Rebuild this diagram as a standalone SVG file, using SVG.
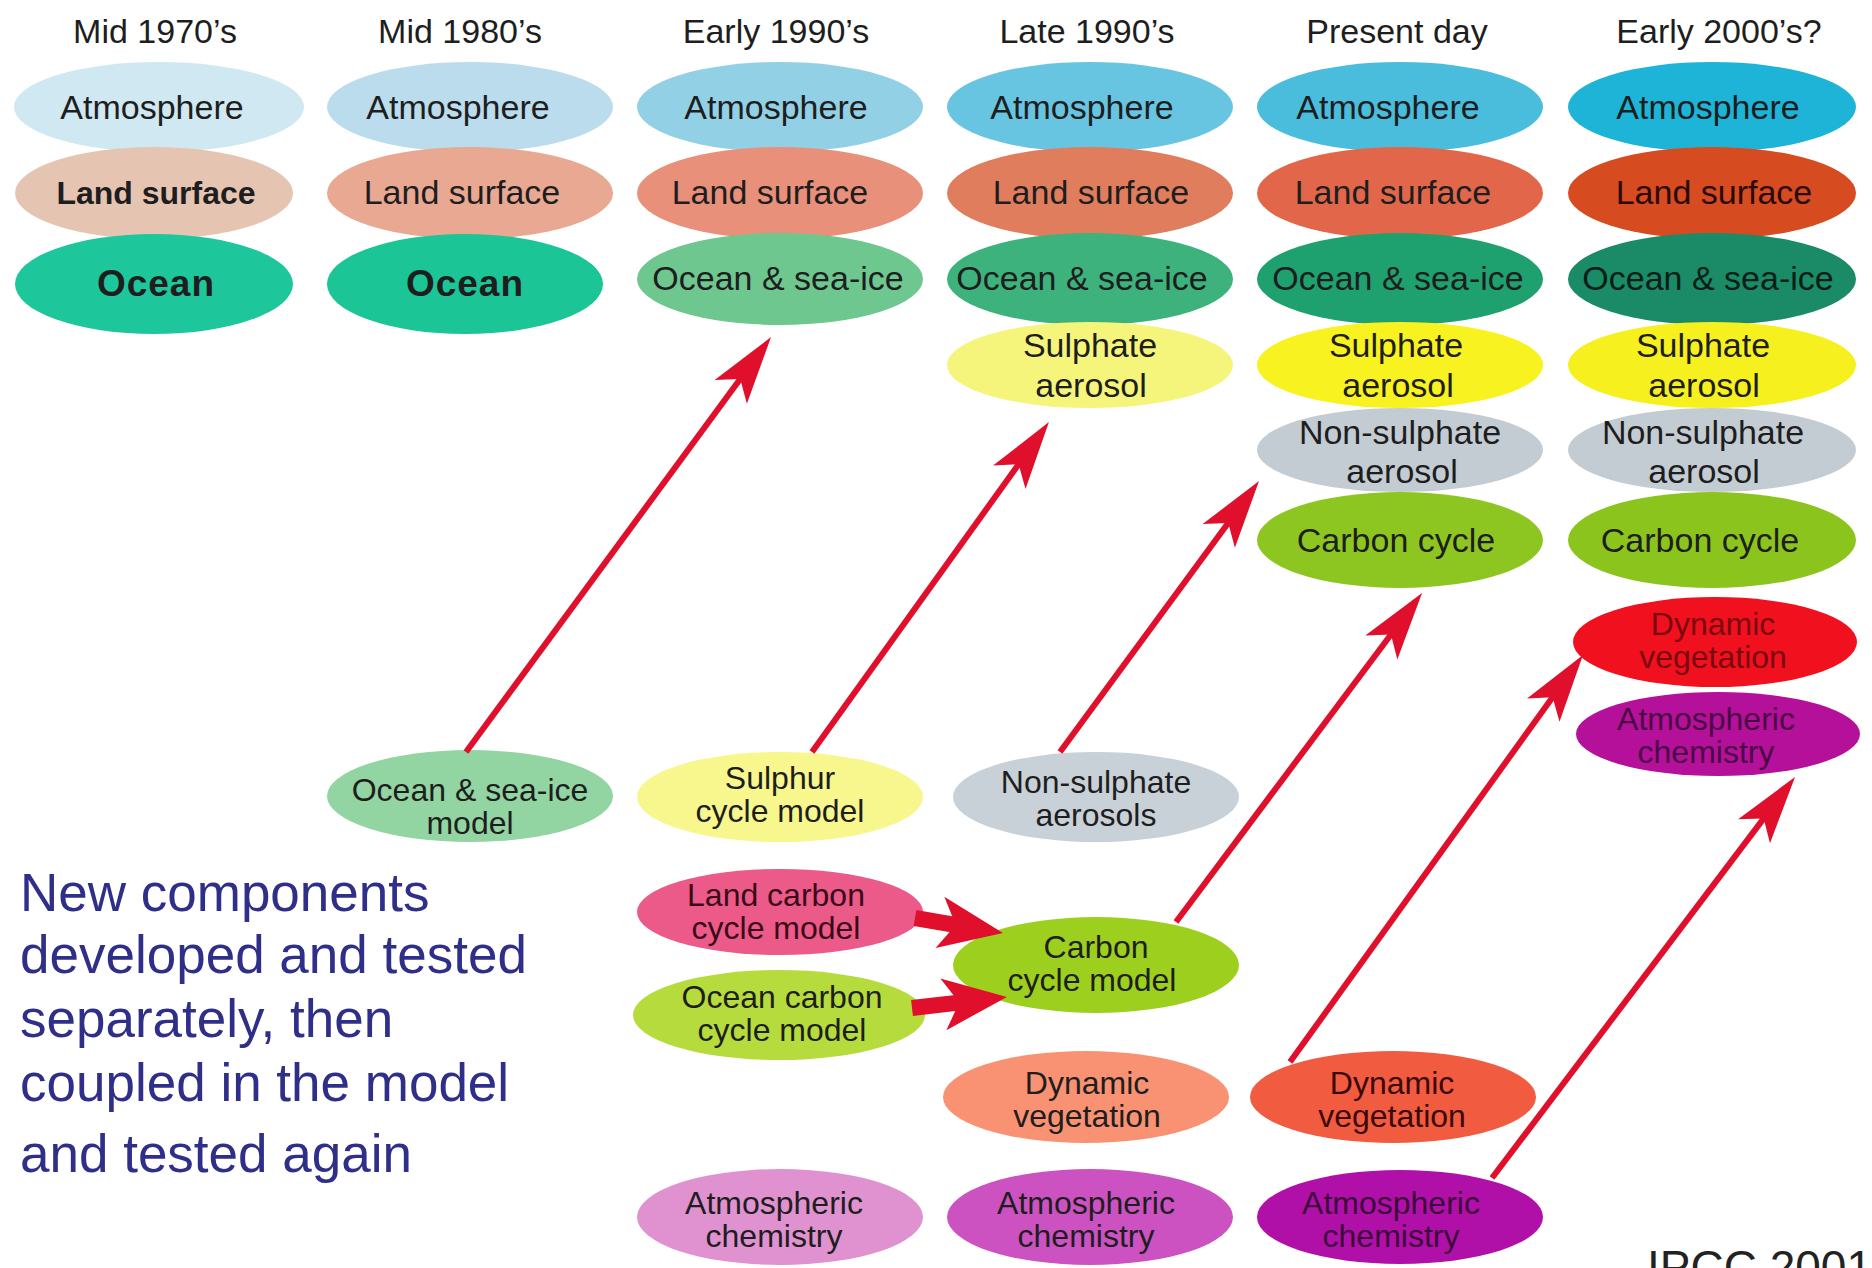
<svg xmlns="http://www.w3.org/2000/svg" width="1872" height="1268" viewBox="0 0 1872 1268">
<style>
text{font-family:"Liberation Sans",Arial,sans-serif;fill:#1e1e1e;text-anchor:middle}
.hd{font-size:34px}
.lb{font-size:34px}
.l2{font-size:32px}
.bd{font-weight:bold}
.oc{font-size:37px;font-weight:bold;letter-spacing:1px}
.note{font-size:53px;fill:#2f2f8a;text-anchor:start}
.arr{stroke:#e0102c;fill:none;stroke-width:6}
.blk{stroke:#e0102c;fill:none;stroke-width:16}
</style>
<defs>
<marker id="ah" markerUnits="userSpaceOnUse" viewBox="-70 -24 72 48" markerWidth="72" markerHeight="48" refX="-45" refY="0" orient="auto"><path d="M0,0 L-68,-20 L-52,0 L-68,20 Z" fill="#e0102c"/></marker>
<marker id="ahb" markerUnits="userSpaceOnUse" viewBox="-66 -28 68 56" markerWidth="68" markerHeight="56" refX="-40" refY="0" orient="auto"><path d="M0,0 L-64,-26 L-48,0 L-64,26 Z" fill="#e0102c"/></marker>
</defs>
<rect width="1872" height="1268" fill="#ffffff"/>

<g id="headers">
<text class="hd" x="155" y="43">Mid 1970’s</text>
<text class="hd" x="460" y="43">Mid 1980’s</text>
<text class="hd" x="776" y="43">Early 1990’s</text>
<text class="hd" x="1087" y="43">Late 1990’s</text>
<text class="hd" x="1397" y="43">Present day</text>
<text class="hd" x="1719" y="43">Early 2000’s?</text>
</g>

<!-- Column 1: Mid 1970's -->
<g id="c1-atm"><ellipse cx="159" cy="107" rx="145" ry="45" fill="#cfe8f1"/><text class="lb" x="152" y="119">Atmosphere</text></g>
<g id="c1-land"><ellipse cx="154" cy="193" rx="139" ry="46" fill="#e6c4b2"/><text class="lb bd" x="156" y="204" style="font-size:32px">Land surface</text></g>
<g id="c1-ocean"><ellipse cx="154" cy="284" rx="139" ry="50" fill="#1ec79b"/><text class="oc" x="156" y="296">Ocean</text></g>

<!-- Column 2: Mid 1980's -->
<g id="c2-atm"><ellipse cx="470" cy="107" rx="143" ry="45" fill="#bbdcec"/><text class="lb" x="458" y="119">Atmosphere</text></g>
<g id="c2-land"><ellipse cx="470" cy="193" rx="143" ry="46" fill="#e8a891"/><text class="lb" x="462" y="204">Land surface</text></g>
<g id="c2-ocean"><ellipse cx="465" cy="284" rx="138" ry="50" fill="#1cc596"/><text class="oc" x="465" y="296">Ocean</text></g>

<!-- Column 3: Early 1990's -->
<g id="c3-atm"><ellipse cx="780" cy="107" rx="143" ry="45" fill="#92d0e6"/><text class="lb" x="776" y="119">Atmosphere</text></g>
<g id="c3-land"><ellipse cx="780" cy="193" rx="143" ry="46" fill="#e8907a"/><text class="lb" x="770" y="204">Land surface</text></g>
<g id="c3-ocean"><ellipse cx="780" cy="279" rx="143" ry="46" fill="#6dc78f"/><text class="lb" x="778" y="290">Ocean &amp; sea-ice</text></g>

<!-- Column 4: Late 1990's -->
<g id="c4-atm"><ellipse cx="1090" cy="107" rx="143" ry="45" fill="#68c5e2"/><text class="lb" x="1082" y="119">Atmosphere</text></g>
<g id="c4-land"><ellipse cx="1090" cy="193" rx="143" ry="46" fill="#e07d5d"/><text class="lb" x="1091" y="204">Land surface</text></g>
<g id="c4-ocean"><ellipse cx="1090" cy="279" rx="143" ry="46" fill="#3db27d"/><text class="lb" x="1082" y="290">Ocean &amp; sea-ice</text></g>
<g id="c4-sulph"><ellipse cx="1090" cy="365" rx="143" ry="43" fill="#f5f57c"/><text class="lb" x="1090" y="357">Sulphate</text><text class="lb" x="1091" y="397">aerosol</text></g>

<!-- Column 5: Present day -->
<g id="c5-atm"><ellipse cx="1400" cy="107" rx="143" ry="45" fill="#4abcdc"/><text class="lb" x="1388" y="119">Atmosphere</text></g>
<g id="c5-land"><ellipse cx="1400" cy="193" rx="143" ry="46" fill="#e2674a"/><text class="lb" x="1393" y="204">Land surface</text></g>
<g id="c5-ocean"><ellipse cx="1400" cy="279" rx="143" ry="46" fill="#1ea06f"/><text class="lb" x="1398" y="290">Ocean &amp; sea-ice</text></g>
<g id="c5-sulph"><ellipse cx="1400" cy="365" rx="143" ry="43" fill="#f7f220"/><text class="lb" x="1396" y="357">Sulphate</text><text class="lb" x="1398" y="397">aerosol</text></g>
<g id="c5-nonsulph"><ellipse cx="1400" cy="450" rx="143" ry="42" fill="#c4ccd3"/><text class="lb" x="1400" y="444">Non-sulphate</text><text class="lb" x="1402" y="483">aerosol</text></g>
<g id="c5-carbon"><ellipse cx="1400" cy="540" rx="143" ry="48" fill="#8dc620"/><text class="lb" x="1396" y="552">Carbon cycle</text></g>

<!-- Column 6: Early 2000's? -->
<g id="c6-atm"><ellipse cx="1712" cy="107" rx="144" ry="45" fill="#1db4d7"/><text class="lb" x="1708" y="119">Atmosphere</text></g>
<g id="c6-land"><ellipse cx="1712" cy="193" rx="144" ry="46" fill="#d64b20"/><text class="lb" x="1714" y="204" style="fill:#2a0a06">Land surface</text></g>
<g id="c6-ocean"><ellipse cx="1712" cy="279" rx="144" ry="46" fill="#1a8a67"/><text class="lb" x="1708" y="290" style="fill:#0a1e16">Ocean &amp; sea-ice</text></g>
<g id="c6-sulph"><ellipse cx="1712" cy="365" rx="144" ry="43" fill="#f5f01e"/><text class="lb" x="1703" y="357">Sulphate</text><text class="lb" x="1704" y="397">aerosol</text></g>
<g id="c6-nonsulph"><ellipse cx="1712" cy="450" rx="144" ry="42" fill="#c4ccd3"/><text class="lb" x="1703" y="444">Non-sulphate</text><text class="lb" x="1704" y="483">aerosol</text></g>
<g id="c6-carbon"><ellipse cx="1712" cy="540" rx="144" ry="48" fill="#8cc41e"/><text class="lb" x="1700" y="552">Carbon cycle</text></g>
<g id="c6-dynveg"><ellipse cx="1715" cy="642" rx="142" ry="45" fill="#f0101e"/><text class="l2" x="1713" y="635" style="fill:#7a0a10">Dynamic</text><text class="l2" x="1713" y="668" style="fill:#7a0a10">vegetation</text></g>
<g id="c6-atmchem"><ellipse cx="1718" cy="734" rx="142" ry="42" fill="#b4109a"/><text class="l2" x="1706" y="730" style="fill:#4a0a44">Atmospheric</text><text class="l2" x="1706" y="763" style="fill:#4a0a44">chemistry</text></g>

<!-- Separately developed components -->
<g id="m-ocean"><ellipse cx="470" cy="796" rx="143" ry="46" fill="#92d4a2"/><text class="l2" x="470" y="801">Ocean &amp; sea-ice</text><text class="l2" x="470" y="834">model</text></g>
<g id="m-sulphur"><ellipse cx="780" cy="797" rx="143" ry="45" fill="#f8f78e"/><text class="l2" x="780" y="789">Sulphur</text><text class="l2" x="780" y="822">cycle model</text></g>
<g id="m-nonsulph"><ellipse cx="1096" cy="797" rx="143" ry="45" fill="#c8d0d8"/><text class="l2" x="1096" y="793">Non-sulphate</text><text class="l2" x="1096" y="826">aerosols</text></g>
<g id="m-landcarbon"><ellipse cx="780" cy="912" rx="143" ry="43" fill="#eb5a88"/><text class="l2" x="776" y="906" style="fill:#3a0a18">Land carbon</text><text class="l2" x="776" y="939" style="fill:#3a0a18">cycle model</text></g>
<g id="m-oceancarbon"><ellipse cx="779" cy="1015" rx="146" ry="45" fill="#b5dc3c"/><text class="l2" x="782" y="1008">Ocean carbon</text><text class="l2" x="782" y="1041">cycle model</text></g>
<g id="m-carbon"><ellipse cx="1096" cy="965" rx="143" ry="48" fill="#9ccf1e"/><text class="l2" x="1096" y="958">Carbon</text><text class="l2" x="1092" y="991">cycle model</text></g>
<g id="m-dynveg4"><ellipse cx="1086" cy="1097" rx="143" ry="46" fill="#f89272"/><text class="l2" x="1087" y="1094">Dynamic</text><text class="l2" x="1087" y="1127">vegetation</text></g>
<g id="m-dynveg5"><ellipse cx="1393" cy="1097" rx="143" ry="46" fill="#f15b40"/><text class="l2" x="1392" y="1094" style="fill:#3a0a08">Dynamic</text><text class="l2" x="1392" y="1127" style="fill:#3a0a08">vegetation</text></g>
<g id="m-atmchem3"><ellipse cx="780" cy="1217" rx="143" ry="48" fill="#e091d0"/><text class="l2" x="774" y="1214">Atmospheric</text><text class="l2" x="774" y="1247">chemistry</text></g>
<g id="m-atmchem4"><ellipse cx="1090" cy="1217" rx="143" ry="48" fill="#cc52c2"/><text class="l2" x="1086" y="1214">Atmospheric</text><text class="l2" x="1086" y="1247">chemistry</text></g>
<g id="m-atmchem5"><ellipse cx="1400" cy="1217" rx="143" ry="47" fill="#b010a8"/><text class="l2" x="1391" y="1214" style="fill:#3c0a3a">Atmospheric</text><text class="l2" x="1391" y="1247" style="fill:#3c0a3a">chemistry</text></g>

<g id="connectors">
<line class="arr" x1="466" y1="752" x2="744.4" y2="373.3" marker-end="url(#ah)"/>
<line class="arr" x1="812" y1="752" x2="1022.7" y2="458.6" marker-end="url(#ah)"/>
<line class="arr" x1="1060" y1="752" x2="1232.4" y2="517.3" marker-end="url(#ah)"/>
<line class="arr" x1="1176" y1="922" x2="1395.1" y2="629" marker-end="url(#ah)"/>
<line class="arr" x1="1290" y1="1062" x2="1556.7" y2="691.5" marker-end="url(#ah)"/>
<line class="arr" x1="1492" y1="1178" x2="1767.9" y2="812.9" marker-end="url(#ah)"/>
<line class="blk" x1="915" y1="918" x2="963.6" y2="926.3" marker-end="url(#ahb)"/>
<line class="blk" x1="912" y1="1008" x2="967.2" y2="1001.6" marker-end="url(#ahb)"/>
</g>

<g id="note">
<text class="note" x="20" y="911">New components</text>
<text class="note" x="20" y="973">developed and tested</text>
<text class="note" x="20" y="1037">separately, then</text>
<text class="note" x="20" y="1101">coupled in the model</text>
<text class="note" x="20" y="1172">and tested again</text>
</g>
<text x="1647" y="1283" style="font-size:46px;text-anchor:start;fill:#222">IPCC 2001</text>
</svg>
